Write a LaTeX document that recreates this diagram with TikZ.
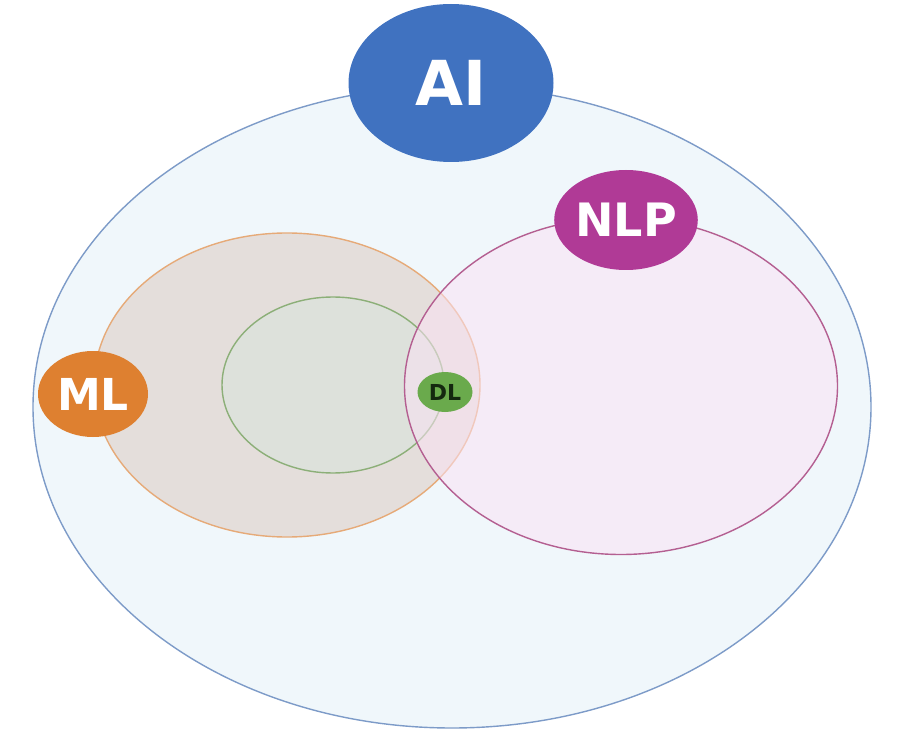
\documentclass[tikz,border=0pt]{standalone}
\usepackage{fontspec}
\setmainfont{DejaVu Sans}
\usetikzlibrary{shapes.geometric}
\definecolor{aiblue}{RGB}{64,114,192}
\definecolor{aiedge}{RGB}{125,155,200}
\definecolor{aifill}{RGB}{240,247,251}
\definecolor{mlorange}{RGB}{222,128,48}
\definecolor{mledge}{RGB}{230,170,120}
\definecolor{mlfill}{RGB}{226,218,214}
\definecolor{dlgreen}{RGB}{106,170,76}
\definecolor{dledge}{RGB}{140,175,120}
\definecolor{dlfill}{RGB}{220,226,220}
\definecolor{nlpmag}{RGB}{176,58,150}
\definecolor{nlpedge}{RGB}{180,95,145}
\definecolor{nlpfill}{RGB}{250,226,244}
\definecolor{dltext}{RGB}{20,40,15}
\tikzset{
  area/.style={ellipse, draw, line width=1.4pt, inner sep=0pt},
  tag/.style={ellipse, inner sep=0pt, text=white, font=\bfseries},
}
\begin{document}
\begin{tikzpicture}[x=1pt,y=-1pt]
\useasboundingbox (0,0) rectangle (897,735);
% outer field of AI
\node[area, draw=aiedge, fill=aifill, minimum width=838pt, minimum height=642pt] (ai) at (452,407) {};
% machine learning and deep learning
\node[area, draw=mledge, fill=mlfill, fill opacity=0.85, minimum width=386pt, minimum height=304pt] (ml) at (287,385) {};
\node[area, draw=dledge, fill=dlfill, fill opacity=0.8, minimum width=222pt, minimum height=176pt] (dl) at (333,385) {};
% natural language processing
\node[area, draw=nlpedge, fill=nlpfill, fill opacity=0.55, minimum width=433pt, minimum height=337pt] (nlp) at (621,386) {};
% labels
\node[tag, fill=aiblue, minimum width=205pt, minimum height=158pt, font=\bfseries\fontsize{62}{62}\selectfont] (aitag) at (451,83) {AI};
\node[tag, fill=nlpmag, minimum width=130pt, minimum height=100pt, font=\bfseries\fontsize{46}{46}\selectfont] (nlptag) at (626,220) {NLP};
\node[tag, fill=mlorange, minimum width=110pt, minimum height=86pt, font=\bfseries\fontsize{44}{44}\selectfont] (mltag) at (93,394) {ML};
\node[tag, fill=dlgreen, text=dltext, minimum width=55pt, minimum height=40pt, font=\bfseries\fontsize{22}{22}\selectfont] (dltag) at (445,392) {DL};
\end{tikzpicture}
\end{document}
